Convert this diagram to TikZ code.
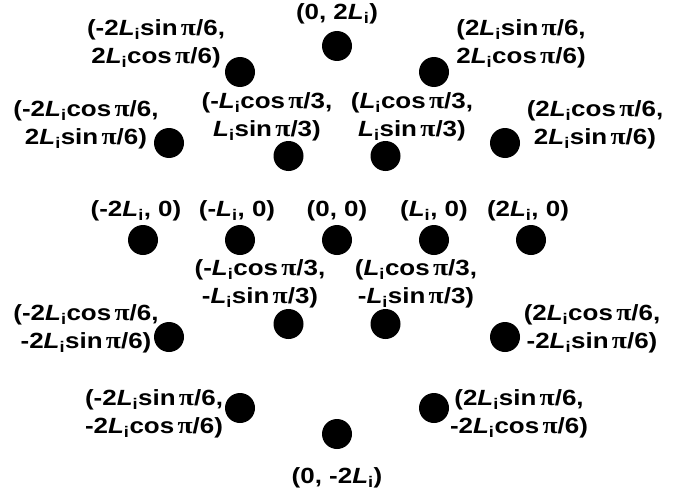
\documentclass[tikz,border=0pt]{standalone}
\usepackage{fontspec}
\setmainfont{Liberation Sans}
\newfontfamily\labfont[FakeStretch=1.18]{Liberation Sans}
\newfontfamily\pifont[FakeStretch=1.15]{Liberation Serif}
\newcommand\Lsub{\textit{L}\textsubscript{i}}
\newcommand\ppi{\hspace{0.15em}{\pifont\fontsize{24}{28}\selectfont π}}
\tikzset{
  dot/.style={circle,fill=black,minimum size=30pt,inner sep=0pt},
  lab/.style={font=\labfont\bfseries\fontsize{22}{28}\selectfont,align=center,inner sep=0pt}
}
\begin{document}
\begin{tikzpicture}[x=1pt,y=-1pt]
\useasboundingbox (0,0) rectangle (674,495);
% dots
\node[dot] (d0) at (337,240) {};
\node[dot] (dE1) at (434,240) {};
\node[dot] (dW1) at (240,240) {};
\node[dot] (dNE1) at (385.5,156) {};
\node[dot] (dNW1) at (288.5,156) {};
\node[dot] (dSE1) at (385.5,324) {};
\node[dot] (dSW1) at (288.5,324) {};
\node[dot] (dN2) at (337,46) {};
\node[dot] (dS2) at (337,434) {};
\node[dot] (dE2) at (531,240) {};
\node[dot] (dW2) at (143,240) {};
\node[dot] (dNE30) at (505,143) {};
\node[dot] (dNW30) at (169,143) {};
\node[dot] (dSE30) at (505,337) {};
\node[dot] (dSW30) at (169,337) {};
\node[dot] (dNE60) at (434,72) {};
\node[dot] (dNW60) at (240,72) {};
\node[dot] (dSE60) at (434,408) {};
\node[dot] (dSW60) at (240,408) {};
% labels
\node[lab] (lN2) at (337,14) {(0, 2\Lsub)};
\node[lab] (lNW60) at (156,44) {(-2\Lsub sin\ppi/6,\\2\Lsub cos\ppi/6)};
\node[lab] (lNE60) at (521,44) {(2\Lsub sin\ppi/6,\\2\Lsub cos\ppi/6)};
\node[lab] (lNW30) at (86,125) {(-2\Lsub cos\ppi/6,\\2\Lsub sin\ppi/6)};
\node[lab] (lNE30) at (595,125) {(2\Lsub cos\ppi/6,\\2\Lsub sin\ppi/6)};
\node[lab] (lNW1) at (267,117) {(-\Lsub cos\ppi/3,\\\Lsub sin\ppi/3)};
\node[lab] (lNE1) at (412,117) {(\Lsub cos\ppi/3,\\\Lsub sin\ppi/3)};
\node[lab] (lW2) at (136,211) {(-2\Lsub, 0)};
\node[lab] (lW1) at (237,211) {(-\Lsub, 0)};
\node[lab] (l0) at (337,211) {(0, 0)};
\node[lab] (lE1) at (434,211) {(\Lsub, 0)};
\node[lab] (lE2) at (528,211) {(2\Lsub, 0)};
\node[lab] (lSW1) at (260,284) {(-\Lsub cos\ppi/3,\\-\Lsub sin\ppi/3)};
\node[lab] (lSE1) at (416,284) {(\Lsub cos\ppi/3,\\-\Lsub sin\ppi/3)};
\node[lab] (lSW30) at (86,329) {(-2\Lsub cos\ppi/6,\\-2\Lsub sin\ppi/6)};
\node[lab] (lSE30) at (592,329) {(2\Lsub cos\ppi/6,\\-2\Lsub sin\ppi/6)};
\node[lab] (lSW60) at (154,414) {(-2\Lsub sin\ppi/6,\\-2\Lsub cos\ppi/6)};
\node[lab] (lSE60) at (519,414) {(2\Lsub sin\ppi/6,\\-2\Lsub cos\ppi/6)};
\node[lab] (lS2) at (337,478) {(0, -2\Lsub)};
\end{tikzpicture}
\end{document}
